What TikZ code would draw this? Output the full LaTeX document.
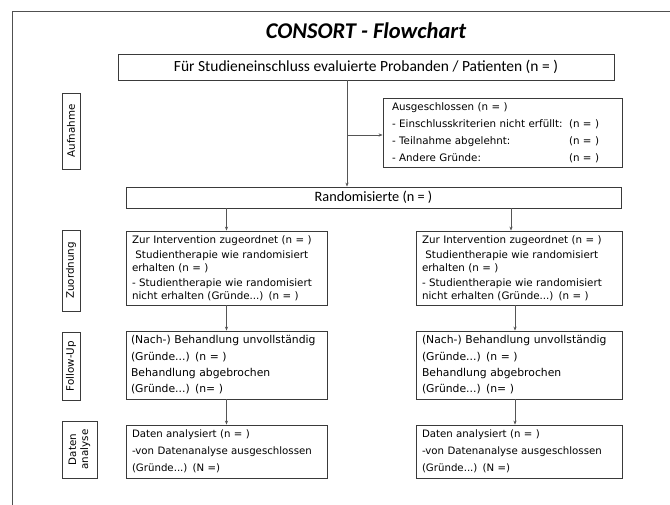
\documentclass[tikz,border=0pt]{standalone}
\usepackage{fontspec}
\setmainfont{DejaVu Sans}
\newfontfamily\calib{Carlito}
\usetikzlibrary{arrows.meta}
\definecolor{boxc}{HTML}{3A3A3A}
\definecolor{arrc}{HTML}{555555}
\definecolor{framec}{HTML}{505050}
\begin{document}
\begin{tikzpicture}[x=1pt,y=-1pt,
  box/.style={draw=boxc, line width=0.8pt, inner ysep=0pt, inner xsep=6pt,
    font=\fontsize{10.3}{13}\selectfont, align=left, text=black},
  wide/.style={draw=boxc, line width=0.8pt, inner sep=0pt,
    font=\calib\fontsize{14.3}{16}\selectfont, align=center},
  phase/.style={draw=boxc, line width=0.8pt, rotate=90, inner sep=0pt,
    font=\fontsize{10.3}{12}\selectfont, align=center},
  arr/.style={draw=arrc, line width=0.7pt, -{Stealth[length=4pt,width=3.2pt]}},
]
\useasboundingbox (0,0) rectangle (670,505);
% outer frame (only top and left edges visible)
\draw[framec, line width=1pt] (12,505) -- (12,12) -- (670,12);

% title
\node[font=\calib\bfseries\itshape\fontsize{22.5}{26}\selectfont] (title) at (366,31) {CONSORT - Flowchart};

% top and randomisation boxes
\node[wide, minimum width=496, minimum height=26, font=\calib\fontsize{15.5}{17}\selectfont] (top) at (366,67)
  {Für Studieneinschluss evaluierte Probanden / Patienten (n = )};
\node[wide, minimum width=495, minimum height=21] (rand) at (373.5,197.5)
  {Randomisierte (n = )};

% excluded box
\node[box, inner xsep=9pt, text width=221, minimum height=69, font=\fontsize{10.3}{17}\selectfont] (excl) at (502.5,132.5)
  {Ausgeschlossen (n = )\\
   \makebox[177pt][l]{- Einschlusskriterien nicht erfüllt:}(n = )\\
   \makebox[177pt][l]{- Teilnahme abgelehnt:}(n = )\\
   \makebox[177pt][l]{- Andere Gründe:}(n = )};

% phase labels
\node[phase, minimum width=76, minimum height=18] (pA) at (71,131) {Aufnahme};
\node[phase, minimum width=81, minimum height=18] (pZ) at (71,270.5) {Zuordnung};
\node[phase, minimum width=68, minimum height=18] (pF) at (71,366) {Follow-Up};
\node[phase, minimum width=57, minimum height=35] (pD) at (79.5,449.5) {Daten\\analyse};

% allocation
\node[box, text width=189, minimum height=74] (a1) at (226.5,268)
  {Zur Intervention zugeordnet (n = )\\[2pt]
   \ Studientherapie wie randomisiert\\ erhalten (n = )\\[2pt]
   - Studientherapie wie randomisiert\\ nicht erhalten (Gründe...) (n = )};
\node[box, text width=194, minimum height=74] (a2) at (519,268)
  {Zur Intervention zugeordnet (n = )\\[2pt]
   \ Studientherapie wie randomisiert\\ erhalten (n = )\\[2pt]
   - Studientherapie wie randomisiert\\ nicht erhalten (Gründe...) (n = )};

% follow-up
\node[box, inner xsep=5pt, text width=191, minimum height=68, font=\fontsize{10.8}{16.3}\selectfont] (f1) at (226.5,365)
  {(Nach-) Behandlung unvollständig\\ (Gründe...) (n = )\\ Behandlung abgebrochen\\ (Gründe...) (n= )};
\node[box, inner xsep=6pt, text width=194, minimum height=68, font=\fontsize{10.8}{16.3}\selectfont] (f2) at (519,365)
  {(Nach-) Behandlung unvollständig\\ (Gründe...) (n = )\\ Behandlung abgebrochen\\ (Gründe...) (n= )};

% analysis
\node[box, text width=189, minimum height=53, font=\fontsize{10.2}{16.8}\selectfont] (d1) at (226.5,451.5)
  {Daten analysiert (n = )\\ -von Datenanalyse ausgeschlossen\\ (Gründe...) (N =)};
\node[box, text width=194, minimum height=53, font=\fontsize{10.2}{16.8}\selectfont] (d2) at (519,451.5)
  {Daten analysiert (n = )\\ -von Datenanalyse ausgeschlossen\\ (Gründe...) (N =)};

% connectors
\coordinate (branch) at (347,135);
\coordinate (rx1) at (511,0);
\coordinate (rx2) at (515,0);
\draw[arr] (top.south -| branch) -- (rand.north -| branch);
\draw[arr] (branch) -- (branch -| excl.west);
\draw[arr] (rand.south -| a1.north) -- (a1.north);
\draw[arr] (rand.south -| rx1) -- (a2.north -| rx1);
\draw[arr] (a1.south) -- (f1.north);
\draw[arr] (a2.south -| rx2) -- (f2.north -| rx2);
\draw[arr] (f1.south) -- (d1.north);
\draw[arr] (f2.south -| rx2) -- (d2.north -| rx2);
\end{tikzpicture}
\end{document}
